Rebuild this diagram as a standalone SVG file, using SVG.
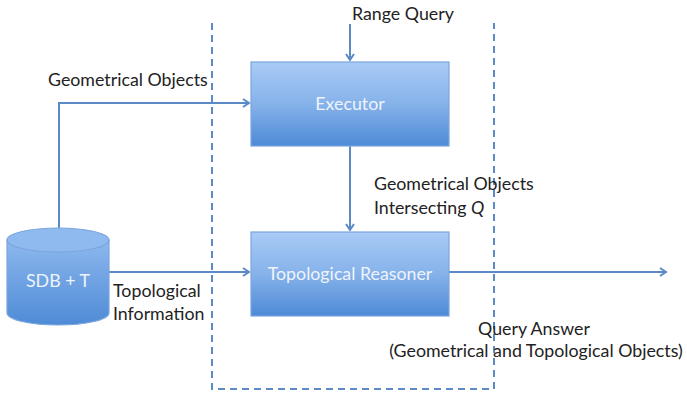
<svg xmlns="http://www.w3.org/2000/svg" width="687" height="399" viewBox="0 0 687 399">
<style>
.lbl{font-family:Lato,"Liberation Sans",sans-serif;font-size:17.8px;fill:#222}
.in{font-family:Lato,"Liberation Sans",sans-serif;font-size:17.8px;fill:#eef4fc}
.box{fill:url(#g);stroke:#7aa6dc;stroke-width:1.2}
.con{fill:none;stroke:#5b8ac6;stroke-width:2}
</style>
<defs>
<linearGradient id="g" x1="0" y1="0" x2="0" y2="1">
<stop offset="0" stop-color="#a9cbf6"/>
<stop offset="0.5" stop-color="#86b2ea"/>
<stop offset="1" stop-color="#4d8ad6"/>
</linearGradient>
<linearGradient id="gc" x1="0" y1="0" x2="0" y2="1">
<stop offset="0" stop-color="#8db8ee"/>
<stop offset="1" stop-color="#4f8bd6"/>
</linearGradient>
<marker id="a" markerWidth="10" markerHeight="10" refX="8" refY="5" orient="auto" markerUnits="userSpaceOnUse">
<path d="M2,1 L8,5 L2,9" fill="none" stroke="#5b8ac6" stroke-width="2"/>
</marker>
</defs>
<path d="M212,23 V389 H494 V23" fill="none" stroke="#5b8ac6" stroke-width="2" stroke-dasharray="7,5"/>
<g id="connectors">
<path class="con" d="M350,24 V60" marker-end="url(#a)"/>
<path class="con" d="M59,228 V103 H249" marker-end="url(#a)"/>
<path class="con" d="M350,146 V230" marker-end="url(#a)"/>
<path class="con" d="M109,272 H249" marker-end="url(#a)"/>
<path class="con" d="M449,272 H666" marker-end="url(#a)"/>
</g>
<g id="executor">
<rect class="box" x="251" y="62" width="198" height="84"/>
<text class="in" x="350" y="110" text-anchor="middle">Executor</text>
</g>
<g id="reasoner">
<rect class="box" x="251" y="232" width="198" height="84"/>
<text class="in" x="350" y="280" text-anchor="middle">Topological Reasoner</text>
</g>
<g id="sdb">
<path d="M7,240 V313 A51,12 0 0 0 109,313 V240 Z" fill="url(#gc)" stroke="#7aa6dc" stroke-width="1.2"/>
<ellipse cx="58" cy="240" rx="51" ry="12" fill="#8fbaf0" stroke="#7aa6dc" stroke-width="1.2"/>
<text class="in" x="58" y="287" text-anchor="middle">SDB + T</text>
</g>
<g id="labels">
<text class="lbl" x="352" y="20">Range Query</text>
<text class="lbl" x="48" y="86">Geometrical Objects</text>
<text class="lbl" x="374" y="190">Geometrical Objects</text>
<text class="lbl" x="374" y="214">Intersecting <tspan font-style="italic">Q</tspan></text>
<text class="lbl" x="113" y="297">Topological</text>
<text class="lbl" x="113" y="320">Information</text>
<text class="lbl" x="534" y="335" text-anchor="middle">Query Answer</text>
<text class="lbl" x="536" y="357" text-anchor="middle">(Geometrical and Topological Objects)</text>
</g>
</svg>
